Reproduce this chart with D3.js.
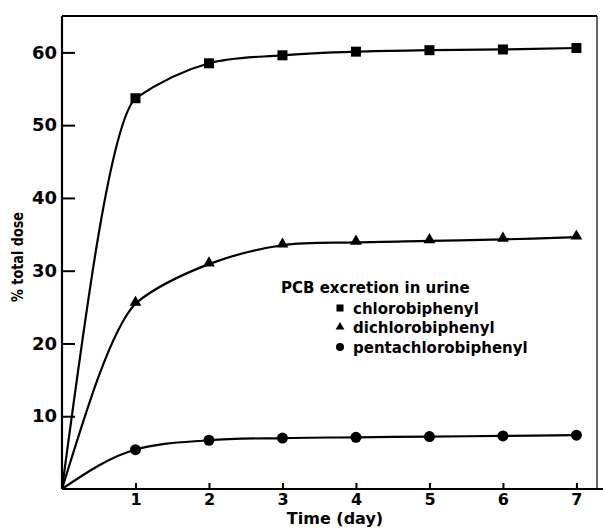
<!DOCTYPE html>
<html>
<head>
<meta charset="utf-8">
<script src="https://cdn.jsdelivr.net/npm/d3@7"></script>
<style>
  html, body { margin: 0; padding: 0; background: #fff; }
  svg { display: block; }
  text { font-family: "DejaVu Sans", sans-serif; font-weight: bold; fill: #000; }
</style>
</head>
<body>
<svg id="chart" width="603" height="529"></svg>
<script>
// ---- data ----
const days = [1, 2, 3, 4, 5, 6, 7];
const chlorobiphenyl = [53.7, 58.5, 59.6, 60.1, 60.3, 60.4, 60.6];
const dichlorobiphenyl = [25.5, 30.9, 33.5, 33.9, 34.1, 34.3, 34.6];
const pentachlorobiphenyl = [5.4, 6.7, 7.0, 7.1, 7.2, 7.3, 7.4];
const origin = [0, 0];
const yTicks = [10, 20, 30, 40, 50, 60];
const xTicks = [1, 2, 3, 4, 5, 6, 7];
const legendTitle = "PCB excretion in urine";
const seriesNames = ["chlorobiphenyl", "dichlorobiphenyl", "pentachlorobiphenyl"];
const xLabel = "Time (day)";
const yLabel = "% total dose";

const W = 603, H = 529;
const svg = d3.select("#chart");
const x = d3.scaleLinear().domain([0, 7.28]).range([62, 597]);
const y = d3.scaleLinear().domain([0, 65]).range([489, 16]);

// clip regions: rising part (before day 1) and plateau part (from day 1)
const defs = svg.append("defs");
defs.append("clipPath").attr("id", "clipA").append("rect")
  .attr("x", 0).attr("y", 0).attr("width", x(days[0])).attr("height", H);
defs.append("clipPath").attr("id", "clipB").append("rect")
  .attr("x", x(days[0])).attr("y", 0).attr("width", W - x(days[0])).attr("height", H);

// frame
svg.append("line").attr("x1", x(0)).attr("x2", x(7.28)).attr("y1", y(65)).attr("y2", y(65))
  .attr("stroke", "#000").attr("stroke-width", 2);
svg.append("line").attr("x1", x(7.28)).attr("x2", x(7.28)).attr("y1", y(65)).attr("y2", y(0))
  .attr("stroke", "#000").attr("stroke-width", 1.2);
svg.append("line").attr("x1", x(0)).attr("x2", x(0)).attr("y1", y(65)).attr("y2", y(0))
  .attr("stroke", "#000").attr("stroke-width", 2.2);
svg.append("line").attr("x1", x(0)).attr("x2", W).attr("y1", y(0)).attr("y2", y(0))
  .attr("stroke", "#000").attr("stroke-width", 2.2);

// axes
const yAxis = d3.axisLeft(y).tickValues(yTicks).tickSizeInner(-13).tickSizeOuter(0).tickPadding(5);
const gy = svg.append("g").attr("transform", `translate(${x(0)},0)`).call(yAxis);
gy.select(".domain").remove();
gy.selectAll("line").attr("stroke-width", 2);
gy.selectAll("text").attr("font-size", 18).style("font-family", "DejaVu Sans").style("font-weight", "bold");

const xAxis = d3.axisBottom(x).tickValues(xTicks).tickSizeInner(-6).tickSizeOuter(0).tickPadding(5);
const gx = svg.append("g").attr("transform", `translate(0,${y(0)})`).call(xAxis);
gx.select(".domain").remove();
gx.selectAll("line").attr("stroke-width", 2);
gx.selectAll("text").attr("font-size", 16).style("font-family", "DejaVu Sans").style("font-weight", "bold");

// axis titles
svg.append("text").attr("x", 335).attr("y", 524).attr("text-anchor", "middle")
  .attr("font-size", 16).text(xLabel);
svg.append("text").attr("transform", `translate(23,257) rotate(-90)`).attr("text-anchor", "middle")
  .attr("font-size", 15).attr("textLength", 90).attr("lengthAdjust", "spacingAndGlyphs").text(yLabel);

// curves
const lineA = d3.line().x(d => x(d[0])).y(d => y(d[1])).curve(d3.curveMonotoneX);
const lineB = d3.line().x(d => x(d[0])).y(d => y(d[1])).curve(d3.curveCatmullRom.alpha(1));
const allSeries = [chlorobiphenyl, dichlorobiphenyl, pentachlorobiphenyl];
allSeries.forEach(vals => {
  const pts = [origin].concat(days.map((d, i) => [d, vals[i]]));
  svg.append("path").attr("d", lineA(pts)).attr("fill", "none").attr("clip-path", "url(#clipA)")
    .attr("stroke", "#000").attr("stroke-width", 2.2);
  svg.append("path").attr("d", lineB(pts)).attr("fill", "none").attr("clip-path", "url(#clipB)")
    .attr("stroke", "#000").attr("stroke-width", 2.2);
});

// markers
const sq = 10;
svg.append("g").selectAll("rect").data(days).join("rect")
  .attr("x", (d) => x(d) - sq / 2).attr("y", (d, i) => y(chlorobiphenyl[i]) - sq / 2)
  .attr("width", sq).attr("height", sq).attr("fill", "#000");
const tri = d3.symbol().type(d3.symbolTriangle).size(60);
svg.append("g").selectAll("path").data(days).join("path")
  .attr("d", tri)
  .attr("transform", (d, i) => `translate(${x(d)},${y(dichlorobiphenyl[i]) - 1})`)
  .attr("fill", "#000");
svg.append("g").selectAll("circle").data(days).join("circle")
  .attr("cx", d => x(d)).attr("cy", (d, i) => y(pentachlorobiphenyl[i]))
  .attr("r", 5.5).attr("fill", "#000");

// legend
svg.append("text").attr("x", 281).attr("y", 293).attr("font-size", 15).text(legendTitle);
const ly = [308, 327, 347];
svg.append("rect").attr("x", 340 - 3.5).attr("y", ly[0] - 3.5).attr("width", 7).attr("height", 7).attr("fill", "#000");
svg.append("path").attr("d", d3.symbol().type(d3.symbolTriangle).size(34)()).attr("transform", `translate(340,${ly[1]})`).attr("fill", "#000");
svg.append("circle").attr("cx", 340).attr("cy", ly[2]).attr("r", 4).attr("fill", "#000");
seriesNames.forEach((n, i) => {
  svg.append("text").attr("x", 353).attr("y", ly[i] + 6).attr("font-size", 15).text(n);
});
</script>
</body>
</html>
